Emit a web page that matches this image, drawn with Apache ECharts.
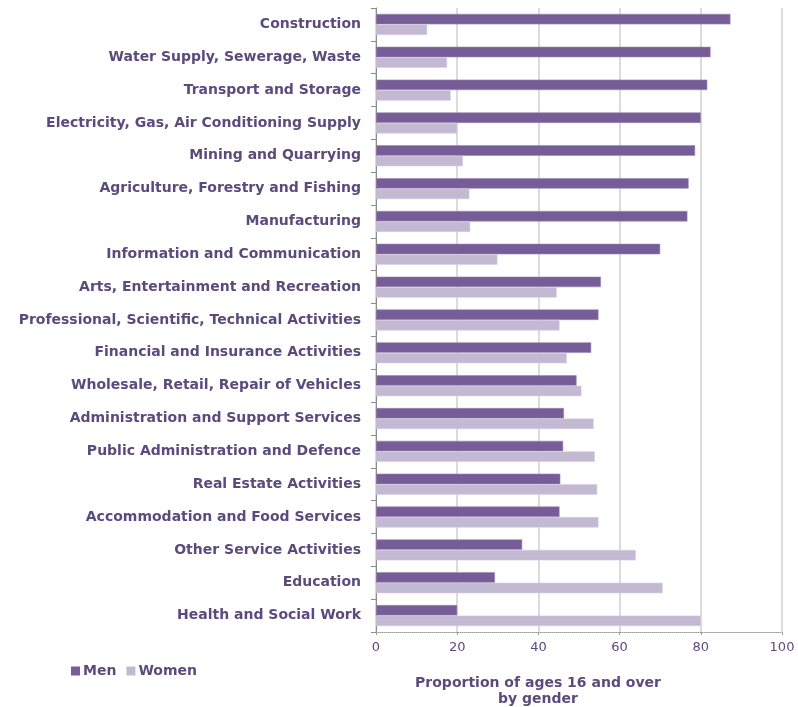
<!DOCTYPE html>
<html>
<head>
<meta charset="utf-8">
<script src="https://cdn.jsdelivr.net/npm/echarts@6/dist/echarts.min.js"></script>
<style>
html,body{margin:0;padding:0;background:#fff;}
#chart{width:798px;height:707px;}
</style>
</head>
<body>
<div id="chart"></div>
<script>
const categories = [
  "Construction",
  "Water Supply, Sewerage, Waste",
  "Transport and Storage",
  "Electricity, Gas, Air Conditioning Supply",
  "Mining and Quarrying",
  "Agriculture, Forestry and Fishing",
  "Manufacturing",
  "Information and Communication",
  "Arts, Entertainment and Recreation",
  "Professional, Scientific, Technical Activities",
  "Financial and Insurance Activities",
  "Wholesale, Retail, Repair of Vehicles",
  "Administration and Support Services",
  "Public Administration and Defence",
  "Real Estate Activities",
  "Accommodation and Food Services",
  "Other Service Activities",
  "Education",
  "Health and Social Work"
];
const men = [87.3, 82.4, 81.6, 80.0, 78.6, 77.0, 76.7, 70.0, 55.4, 54.8, 53.0, 49.4, 46.3, 46.1, 45.4, 45.2, 36.0, 29.3, 20.0];
const women = [12.6, 17.5, 18.4, 20.0, 21.4, 23.0, 23.2, 29.9, 44.5, 45.2, 47.0, 50.6, 53.6, 53.9, 54.5, 54.8, 64.0, 70.6, 80.0];
const xTicks = [0, 20, 40, 60, 80, 100];
const axisTitle = "Proportion of ages 16 and over\nby gender";

const textColor = "#5B4B7D";
const chart = echarts.init(document.getElementById('chart'), null, {renderer: 'canvas'});
chart.setOption({
  animation: false,
  backgroundColor: '#ffffff',
  grid: {left: 376, right: 16, top: 8, bottom: 75, containLabel: false},
  title: {
    text: axisTitle,
    left: 538, top: 675, textAlign: 'center', padding: 0,
    textStyle: {fontFamily: 'DejaVu Sans', fontWeight: 'bold', fontSize: 14, color: textColor, lineHeight: 16}
  },
  legend: {
    left: 71, top: 664, padding: 0,
    itemWidth: 9, itemHeight: 9, itemGap: 10,
    icon: 'path://M0,0L10,0L10,10L0,10Z',
    itemStyle: {borderWidth: 0},
    textStyle: {fontFamily: 'DejaVu Sans', fontWeight: 'bold', fontSize: 14, color: textColor, padding: [0,0,0,-2]},
    data: ['Men', 'Women']
  },
  xAxis: {
    type: 'value', min: 0, max: 100, interval: 20,
    axisLine: {show: true, lineStyle: {color: '#9a9a9a', type: 'dotted', width: 1}},
    axisTick: {show: true, length: 3, lineStyle: {color: '#9a9a9a'}},
    axisLabel: {
      color: textColor, fontFamily: 'DejaVu Sans', fontSize: 13, margin: 9,
      formatter: function (v) { return xTicks.indexOf(v) >= 0 ? String(v) : ''; }
    },
    splitLine: {show: true, lineStyle: {color: '#cfcfcf', width: 1.5}}
  },
  yAxis: {
    type: 'category', data: categories, inverse: true,
    axisLine: {show: true, lineStyle: {color: '#8c8c8c', width: 1}},
    axisTick: {show: true, length: 5, lineStyle: {color: '#8c8c8c'}},
    axisLabel: {color: textColor, fontFamily: 'DejaVu Sans', fontWeight: 'bold', fontSize: 14, margin: 15},
    splitLine: {show: false}
  },
  series: [
    {
      name: 'Men', type: 'bar', data: men,
      barGap: '0%', barCategoryGap: '36%',
      itemStyle: {color: '#775D98', borderColor: '#9a86b4', borderWidth: 0.6}
    },
    {
      name: 'Women', type: 'bar', data: women,
      barGap: '0%', barCategoryGap: '36%',
      itemStyle: {color: '#C4B9D3', borderColor: '#d6cde2', borderWidth: 0.6}
    }
  ]
});
</script>
</body>
</html>
